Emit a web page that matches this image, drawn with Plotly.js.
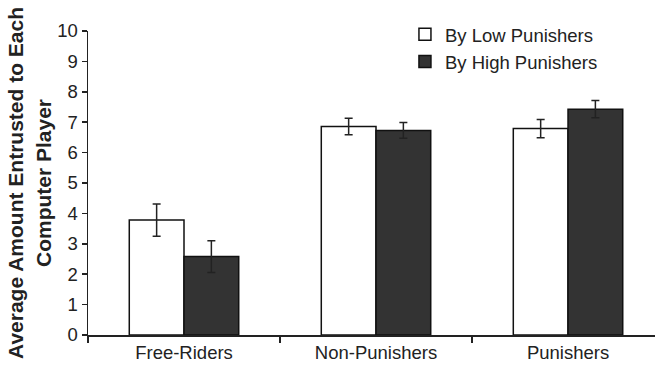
<!DOCTYPE html>
<html>
<head>
<meta charset="utf-8">
<script src="https://cdn.plot.ly/plotly-3.0.1.min.js"></script>
<style>html,body{margin:0;padding:0;background:#fff;}#chart{width:655px;height:373px;}</style>
</head>
<body>
<div id="chart"></div>
<script>
const categories = ["Free-Riders", "Non-Punishers", "Punishers"];
const lowValues = [3.78, 6.86, 6.79];
const lowErrors = [0.53, 0.27, 0.30];
const highValues = [2.58, 6.73, 7.43];
const highErrors = [0.52, 0.26, 0.28];
const seriesNames = ["By Low Punishers", "By High Punishers"];
const yTicks = [0, 1, 2, 3, 4, 5, 6, 7, 8, 9, 10];

const FONT = "Liberation Sans, Arial, sans-serif";
const INK = "#222";

const traces = [
  {
    type: "bar", name: seriesNames[0], x: categories, y: lowValues,
    legendgroup: "a",
    marker: {color: "#ffffff", line: {color: "#111", width: 1.5}},
    error_y: {type: "data", array: lowErrors, visible: true, color: "#222", thickness: 1.5, width: 4}
  },
  {
    type: "bar", name: seriesNames[1], x: categories, y: highValues,
    legendgroup: "b",
    marker: {color: "#333333", line: {color: "#111", width: 1.5}},
    error_y: {type: "data", array: highErrors, visible: true, color: "#222", thickness: 1.5, width: 4}
  }
];

const layout = {
  width: 655, height: 373,
  margin: {l: 88, r: 0, t: 31, b: 38},
  paper_bgcolor: "#fff", plot_bgcolor: "#fff",
  font: {family: FONT, color: INK, size: 18},
  barmode: "group",
  bargap: 0.43, bargroupgap: 0,
  showlegend: true,
  legend: {
    x: 0.559, y: 1.05, xanchor: "left", yanchor: "top",
    bgcolor: "rgba(0,0,0,0)", font: {family: FONT, size: 18.5, color: INK},
    traceorder: "grouped", tracegroupgap: 0, itemwidth: 30
  },
  xaxis: {
    range: [-0.5, 2.453],
    showline: true, linecolor: "#222", linewidth: 1.5,
    ticks: "outside", ticklen: 6, tickwidth: 1.5, tickcolor: "#222",
    tickson: "boundaries",
    showgrid: false, zeroline: false,
    tickfont: {family: FONT, size: 18.5, color: INK}
  },
  yaxis: {
    range: [0, 10],
    tickvals: yTicks, ticktext: yTicks.map(String),
    showline: true, linecolor: "#222", linewidth: 1.5,
    ticks: "outside", ticklen: 5, tickwidth: 1.5, tickcolor: "#222",
    showgrid: false, zeroline: false,
    tickfont: {family: FONT, size: 18.5, color: INK},
    title: {
      text: "<b>Average Amount Entrusted to Each<br>Computer Player</b>",
      font: {family: FONT, size: 21, color: INK},
      standoff: 0
    }
  }
};

Plotly.newPlot("chart", traces, layout, {displayModeBar: false, staticPlot: true});
</script>
</body>
</html>
